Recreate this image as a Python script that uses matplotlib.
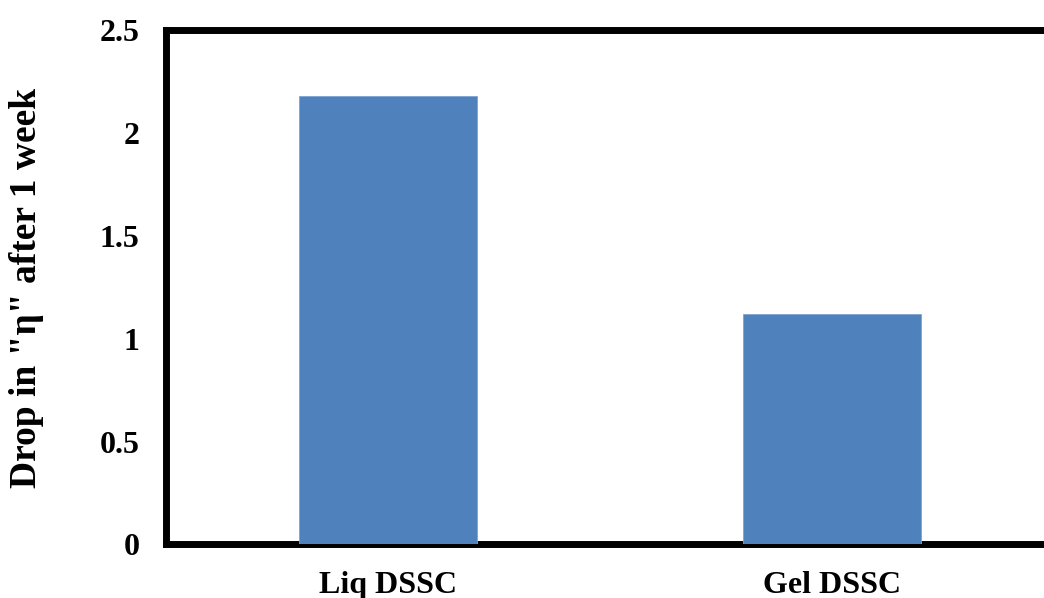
import matplotlib.pyplot as plt

cells = ['Liq DSSC', 'Gel DSSC']
drop = [2.18, 1.12]
yticks = [0, 0.5, 1, 1.5, 2, 2.5]
ytick_labels = ['0', '0.5', '1', '1.5', '2', '2.5']

plt.rcParams['font.family'] = ['Liberation Serif', 'DejaVu Serif']
plt.rcParams['font.weight'] = 'bold'

fig = plt.figure(figsize=(10.44, 5.98), dpi=100)
ax = fig.add_axes([0.159, 0.0895, 0.8506, 0.8595])

ax.bar(range(len(cells)), drop, width=0.4, color='#4F81BD',
       edgecolor='#7fa3d3', linewidth=0.6, zorder=3)
ax.axhline(-0.003, color='#b0b0b0', lw=1.3, zorder=2.8)

ax.set_xlim(-0.5, 1.5)
ax.set_ylim(0, 2.5)
ax.set_xticks(range(len(cells)))
ax.set_xticklabels(cells, fontsize=23, fontweight='bold')
ax.set_yticks(yticks)
ax.set_yticklabels(ytick_labels, fontsize=23, fontweight='bold')
ax.tick_params(axis='x', length=0, pad=19)
ax.tick_params(axis='y', length=0, pad=19)

for side in ['left', 'top', 'bottom']:
    ax.spines[side].set_linewidth(5)
    ax.spines[side].set_color('black')
ax.spines['right'].set_visible(False)

ax.set_ylabel('Drop in "η" after 1 week', fontsize=27, fontweight='bold')
ax.yaxis.set_label_coords(-0.137, 0.5)

fig.savefig('out.png', dpi=100)
